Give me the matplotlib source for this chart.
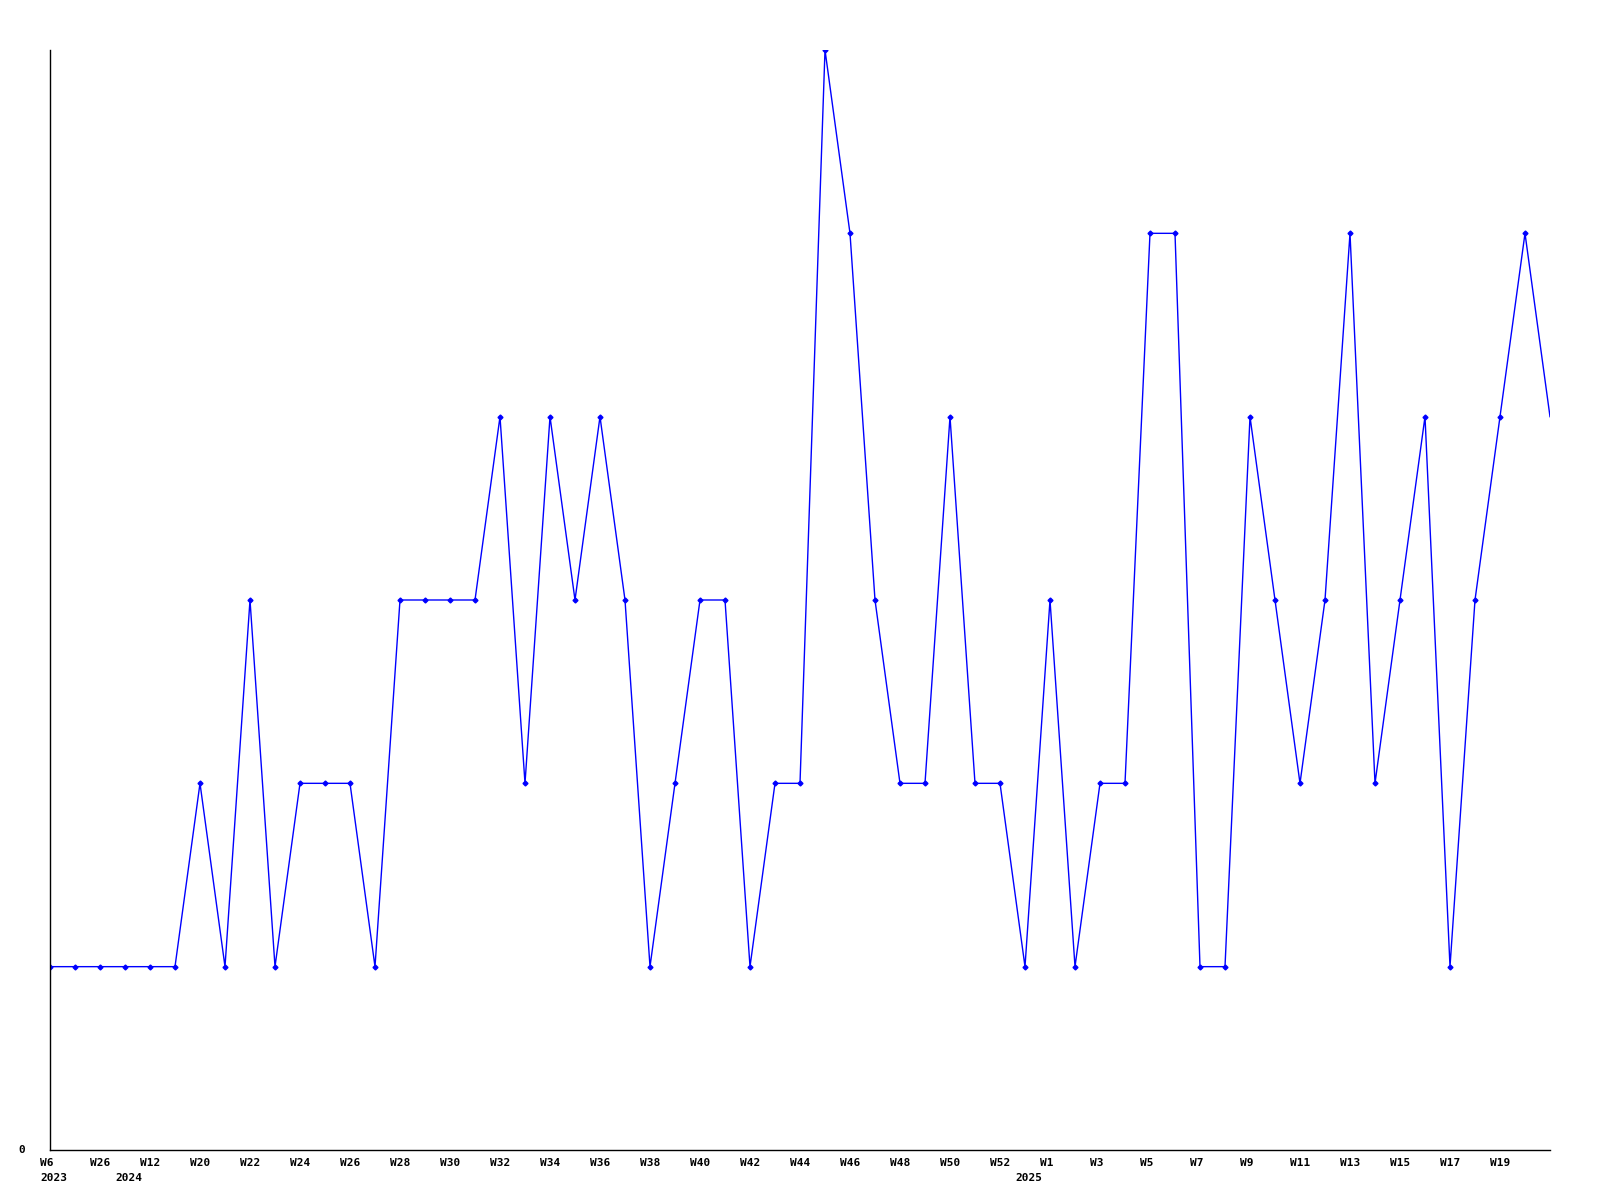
import matplotlib
matplotlib.use("Agg")
import matplotlib.pyplot as plt

# weekly counts, one point per week
values = [1, 1, 1, 1, 1, 1, 2, 1, 3, 1,
          2, 2, 2, 1, 3, 3, 3, 3, 4, 2,
          4, 3, 4, 3, 1, 2, 3, 3, 1, 2,
          2, 6, 5, 3, 2, 2, 4, 2, 2, 1,
          3, 1, 2, 2, 5, 5, 1, 1, 4, 3,
          2, 3, 5, 2, 3, 4, 1, 3, 4, 5,
          4]

week_labels = ["W6", "W26", "W12", "W20", "W22", "W24", "W26", "W28", "W30", "W32",
               "W34", "W36", "W38", "W40", "W42", "W44", "W46", "W48", "W50", "W52",
               "W1", "W3", "W5", "W7", "W9", "W11", "W13", "W15", "W17", "W19"]
week_pos = list(range(0, 60, 2))

year_labels = ["2023", "2024", "2025"]
year_pos = [0, 3, 39]

x = list(range(len(values)))

fig = plt.figure(figsize=(16, 12), dpi=100)
ax = fig.add_axes([0.03125, 0.04167, 0.9375, 0.91667])

ax.plot(x, values, color="#0000ff", linewidth=1.0, clip_on=True)
ax.plot(x[:-1], values[:-1], linestyle="none", marker="D", markersize=2.5,
        color="#0000ff")

ax.set_xlim(0, len(values) - 1)
ax.set_ylim(0, 6)
ax.spines["top"].set_visible(False)
ax.spines["right"].set_visible(False)
ax.spines["left"].set_linewidth(1.0)
ax.spines["bottom"].set_linewidth(1.0)
ax.set_xticks([])
ax.set_yticks([])

font = dict(family="DejaVu Sans Mono", fontweight="bold", fontsize=8)

for pos, lab in zip(week_pos, week_labels):
    ax.text(pos - 0.4, -0.042, lab, ha="left", va="top", **font)
for pos, lab in zip(year_pos, year_labels):
    ax.text(pos - 0.4, -0.125, lab, ha="left", va="top", **font)
ax.text(-1.12, 0, "0", ha="center", va="center", **font)

fig.savefig("out.png", dpi=100)
plt.close(fig)
